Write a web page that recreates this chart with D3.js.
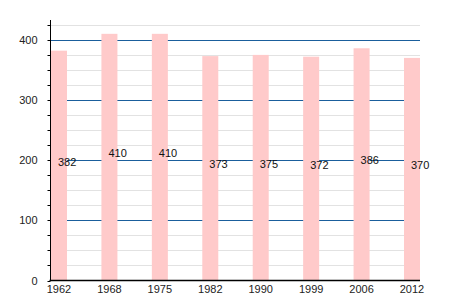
<!DOCTYPE html>
<html>
<head>
<meta charset="utf-8">
<script src="https://cdn.jsdelivr.net/npm/d3@7"></script>
<style>
  body { margin: 0; background: #fff; }
  text { font-family: "Liberation Sans", Arial, sans-serif; }
</style>
</head>
<body>
<div id="chart"></div>
<script>
// population by census year
const years = ['1962', '1968', '1975', '1982', '1990', '1999', '2006', '2012']
const population = [382, 410, 410, 373, 375, 372, 386, 370]
const majorTicks = [0, 100, 200, 300, 400]
const minorTicks = d3.range(0, 426, 25)

const width = 450
const height = 300
const plotLeft = 50.5
const plotRight = 420
const plotTop = 20
const plotBottom = 280.5
const barW = 16

const svg = d3.select('#chart')
  .append('svg')
  .attr('width', width)
  .attr('height', height)

const x = d3.scalePoint()
  .domain(years)
  .range([plotLeft + 0.5, plotRight - barW])

const y = d3.scaleLinear()
  .domain([0, 433])
  .range([plotBottom, plotTop])

// light grid every 25
svg.append('g')
  .selectAll('line')
  .data(minorTicks.filter(d => d % 100 !== 0))
  .join('line')
  .attr('x1', plotLeft).attr('x2', plotRight)
  .attr('y1', d => Math.round(y(d)) + 0.5)
  .attr('y2', d => Math.round(y(d)) + 0.5)
  .attr('stroke', '#e2e2e2')
  .attr('stroke-width', 1)

// major grid
svg.append('g')
  .selectAll('line')
  .data(majorTicks.filter(d => d > 0))
  .join('line')
  .attr('x1', plotLeft).attr('x2', plotRight)
  .attr('y1', d => Math.round(y(d)) + 0.5)
  .attr('y2', d => Math.round(y(d)) + 0.5)
  .attr('stroke', '#1a5e9c')
  .attr('stroke-width', 1)

// bars
svg.append('g')
  .selectAll('rect')
  .data(years)
  .join('rect')
  .attr('x', d => x(d))
  .attr('width', barW)
  .attr('y', (d, i) => y(population[i]))
  .attr('height', (d, i) => plotBottom - y(population[i]))
  .attr('fill', '#ffcaca')

// value labels at half height
svg.append('g')
  .selectAll('text')
  .data(years)
  .join('text')
  .attr('x', d => x(d) + 7)
  .attr('y', (d, i) => y(population[i] / 2))
  .style('font-size', '11px')
  .attr('fill', '#111')
  .text((d, i) => population[i])

// y axis
const yAxis = svg.append('g')
  .attr('transform', `translate(${plotLeft},0)`)
yAxis.append('line')
  .attr('y1', plotTop).attr('y2', plotBottom)
  .attr('stroke', '#000')
yAxis.selectAll('.tick')
  .data(minorTicks)
  .join('line')
  .attr('class', 'tick')
  .attr('x1', -3).attr('x2', 0)
  .attr('y1', d => Math.round(y(d)) + 0.5)
  .attr('y2', d => Math.round(y(d)) + 0.5)
  .attr('stroke', '#000')
yAxis.selectAll('text')
  .data(majorTicks)
  .join('text')
  .attr('x', -13)
  .attr('y', d => y(d) + 4)
  .attr('text-anchor', 'end')
  .style('font-size', '11px')
  .attr('fill', '#222')
  .text(d => d)

// x axis
const xAxis = svg.append('g')
xAxis.append('line')
  .attr('x1', plotLeft - 1).attr('x2', plotRight)
  .attr('y1', plotBottom).attr('y2', plotBottom)
  .attr('stroke', '#000')
  .attr('stroke-width', 1.5)
xAxis.selectAll('text')
  .data(years)
  .join('text')
  .attr('x', d => x(d) + barW / 2)
  .attr('y', 293)
  .attr('text-anchor', 'middle')
  .style('font-size', '11px')
  .attr('fill', '#222')
  .text(d => d)
</script>
</body>
</html>
